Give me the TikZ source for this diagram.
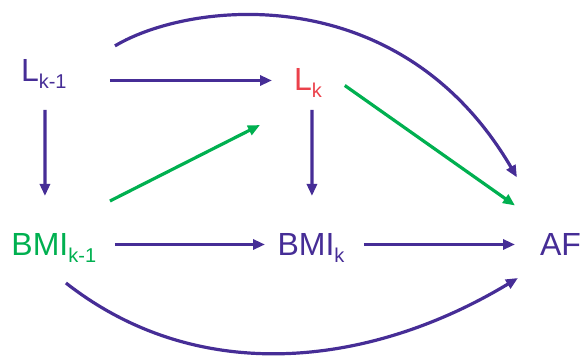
\documentclass[tikz,border=0pt]{standalone}
\usepackage{fontspec}
\setmainfont{Liberation Sans}
\usetikzlibrary{arrows.meta,calc}
\definecolor{dpurple}{RGB}{70,45,150}
\definecolor{dred}{RGB}{235,65,75}
\definecolor{dgreen}{RGB}{0,176,80}
\newcommand\mysb[1]{\raisebox{-7pt}{\fontsize{20}{20}\selectfont #1}}
\begin{document}
\begin{tikzpicture}[x=1pt,y=-1pt,
  lbl/.style={inner sep=0pt,outer sep=0pt,anchor=base west,font=\fontsize{32}{32}\selectfont},
  parr/.style={line width=3.2pt,draw=dpurple,-{Triangle[length=12pt,width=10pt,fill=dpurple]}},
  garr/.style={line width=3.2pt,draw=dgreen,-{Triangle[length=12pt,width=10pt,fill=dgreen]}}]
\useasboundingbox (0,0) rectangle (582,358);
\node[lbl,text=dpurple] (Lk1) at (21,82) {L\mysb{k-1}};
\node[lbl,text=dred] (Lk) at (294,91) {L\mysb{k}};
\node[lbl,text=dgreen] (Bk1) at (11.5,256) {BMI\mysb{k-1}};
\node[lbl,text=dpurple] (Bk) at (277.5,256) {BMI\mysb{k}};
\node[lbl,text=dpurple] (AF) at (540,256) {AF};
% straight arrows
\draw[parr] ($(Lk1.east)+(43.4,6)$) -- ($(Lk.west)+(-22,-3)$);
\draw[parr] ($(Lk1.south)+(1.2,21)$) -- ($(Bk1.north)+(-8.9,-38)$);
\draw[parr] ($(Lk.south)+(4.1,12)$) -- ($(Bk.north)+(1,-38)$);
\draw[garr] ($(Lk.east)+(23,2)$) -- ($(AF.west)+(-25,-39.5)$);
\draw[garr] ($(Bk1.north east)+(13.8,-33)$) -- ($(Lk.south west)+(-34,27)$);
\draw[parr] ($(Bk1.east)+(18.8,-4)$) -- ($(Bk.west)+(-12.5,-4)$);
\draw[parr] ($(Bk.east)+(19.6,-4)$) -- ($(AF.west)+(-25,-0.5)$);
% curved arrows
\draw[parr] ($(Lk1.north east)+(48.4,-14.1)$) .. controls +(75,-45) and +(-117,-200) .. ($(AF.north)+(-43.5,-56.6)$);
\draw[parr] ($(Bk1.south)+(12.1,20)$) .. controls +(134,105) and +(-146,88) .. ($(AF.south)+(-42.5,22)$);
\end{tikzpicture}
\end{document}
